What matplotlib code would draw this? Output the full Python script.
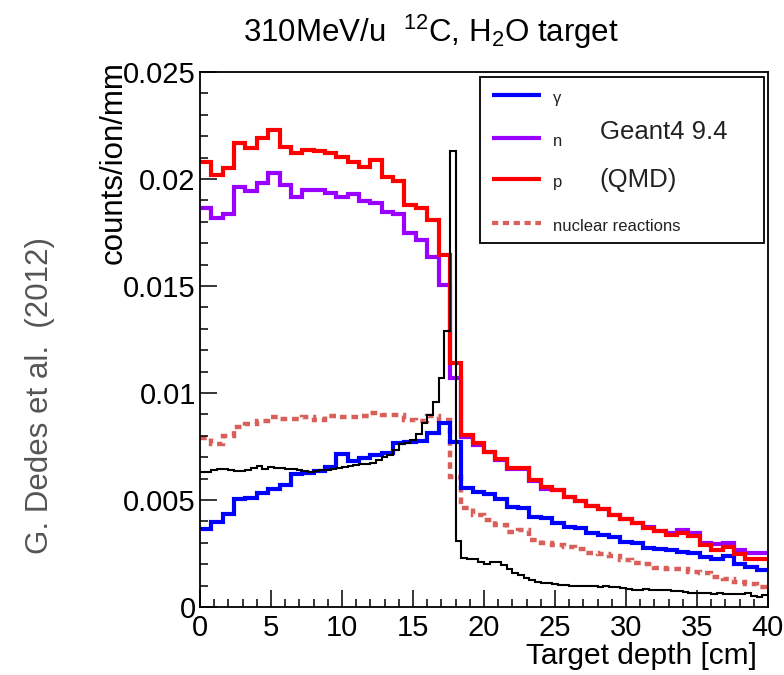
import numpy as np
import matplotlib
matplotlib.use("Agg")
import matplotlib.pyplot as plt
from matplotlib.patches import Rectangle

plt.rcParams['font.family'] = ['Liberation Sans', 'DejaVu Sans']
plt.rcParams['mathtext.fontset'] = 'custom'
plt.rcParams['mathtext.rm'] = 'Liberation Sans'
plt.rcParams['mathtext.default'] = 'regular'

# 50 bins of 0.8 cm for the particle spectra, 100 bins of 0.4 cm for the black curve
depth_edges = np.linspace(0, 40, 51)
fine_edges = np.linspace(0, 40, 101)

gamma = [0.00363, 0.00399, 0.00435, 0.00503, 0.00511, 0.00534, 0.00550, 0.00570, 0.00621, 0.00628,
         0.00636, 0.00656, 0.00715, 0.00684, 0.00695, 0.00710, 0.00721, 0.00765, 0.00773, 0.00778,
         0.00812, 0.00861, 0.00773, 0.00555, 0.00539, 0.00527, 0.00503, 0.00469, 0.00461, 0.00422,
         0.00414, 0.00391, 0.00375, 0.00368, 0.00344, 0.00336, 0.00326, 0.00305, 0.00300, 0.00274,
         0.00270, 0.00266, 0.00258, 0.00251, 0.00235, 0.00223, 0.00238, 0.00201, 0.00188, 0.00173]

neutron = [0.01863, 0.01816, 0.01835, 0.01961, 0.01944, 0.01983, 0.02030, 0.01972, 0.01914, 0.01949,
           0.01949, 0.01936, 0.01914, 0.01930, 0.01897, 0.01889, 0.01845, 0.01835, 0.01746, 0.01715,
           0.01637, 0.01505, 0.01069, 0.00795, 0.00755, 0.00722, 0.00688, 0.00643, 0.00646, 0.00590,
           0.00552, 0.00545, 0.00513, 0.00494, 0.00472, 0.00456, 0.00432, 0.00412, 0.00391, 0.00373,
           0.00357, 0.00347, 0.00360, 0.00344, 0.00298, 0.00294, 0.00300, 0.00266, 0.00251, 0.00251]

proton = [0.02080, 0.02020, 0.02050, 0.02167, 0.02143, 0.02190, 0.02230, 0.02150, 0.02120, 0.02136,
          0.02130, 0.02123, 0.02104, 0.02080, 0.02057, 0.02089, 0.02008, 0.01990, 0.01879, 0.01863,
          0.01808, 0.01645, 0.01139, 0.00804, 0.00765, 0.00726, 0.00690, 0.00648, 0.00648, 0.00593,
          0.00559, 0.00547, 0.00515, 0.00496, 0.00472, 0.00456, 0.00430, 0.00410, 0.00391, 0.00371,
          0.00355, 0.00336, 0.00347, 0.00332, 0.00290, 0.00266, 0.00279, 0.00248, 0.00223, 0.00223]

nuclear = [0.00788, 0.00762, 0.00799, 0.00843, 0.00855, 0.00870, 0.00889, 0.00877, 0.00877, 0.00889,
           0.00874, 0.00893, 0.00886, 0.00886, 0.00893, 0.00905, 0.00897, 0.00897, 0.00874, 0.00870,
           0.00893, 0.00874, 0.00609, 0.00461, 0.00430, 0.00407, 0.00383, 0.00352, 0.00360, 0.00313,
           0.00298, 0.00290, 0.00282, 0.00272, 0.00251, 0.00248, 0.00238, 0.00220, 0.00204, 0.00201,
           0.00181, 0.00176, 0.00176, 0.00165, 0.00157, 0.00142, 0.00129, 0.00118, 0.00107, 0.00092]

dose = [0.00630, 0.00632, 0.00640, 0.00645, 0.00645, 0.00638, 0.00636, 0.00636, 0.00638, 0.00648,
        0.00660, 0.00645, 0.00656, 0.00648, 0.00648, 0.00645, 0.00646, 0.00640, 0.00634, 0.00632,
        0.00634, 0.00638, 0.00638, 0.00645, 0.00648, 0.00652, 0.00658, 0.00664, 0.00668, 0.00667,
        0.00674, 0.00685, 0.00700, 0.00712, 0.00735, 0.00760, 0.00768, 0.00780, 0.00810, 0.00860,
        0.00897, 0.00960, 0.01070, 0.01290, 0.02130, 0.00310, 0.00228, 0.00225, 0.00223, 0.00212,
        0.00201, 0.00212, 0.00212, 0.00196, 0.00176, 0.00157, 0.00150, 0.00134, 0.00126, 0.00118,
        0.00114, 0.00110, 0.00108, 0.00105, 0.00103, 0.00100, 0.00098, 0.00098, 0.00097, 0.00096,
        0.00094, 0.00100, 0.00095, 0.00093, 0.00090, 0.00082, 0.00080, 0.00079, 0.00082, 0.00080,
        0.00079, 0.00080, 0.00078, 0.00077, 0.00074, 0.00070, 0.00067, 0.00066, 0.00064, 0.00064,
        0.00063, 0.00064, 0.00062, 0.00060, 0.00060, 0.00062, 0.00064, 0.00052, 0.00048, 0.00055]

xticks = [0, 5, 10, 15, 20, 25, 30, 35, 40]
yticks = [0, 0.005, 0.01, 0.015, 0.02, 0.025]
ytick_labels = ['0', '0.005', '0.01', '0.015', '0.02', '0.025']

c_gamma = '#0000ff'
c_n = '#9900ff'
c_p = '#ff0000'
c_nuc = '#d9605a'

fig = plt.figure(figsize=(7.84, 6.75), dpi=100)
ax = fig.add_axes([200/784, 1-607/675, 568/784, 535/675])

dots = (0, (1.5, 1.1))
ax.stairs(nuclear, depth_edges, baseline=None, color=c_nuc, lw=3.2, linestyle=dots,
          capstyle='butt')
ax.stairs(gamma, depth_edges, baseline=None, color=c_gamma, lw=3)
ax.stairs(neutron, depth_edges, baseline=None, color=c_n, lw=3)
ax.stairs(proton, depth_edges, baseline=None, color=c_p, lw=3)
ax.stairs(dose, fine_edges, baseline=None, color='black', lw=1.5)

ax.set_xlim(0, 40)
ax.set_ylim(0, 0.025)
ax.set_xticks(xticks)
ax.set_xticks(np.arange(0, 41, 1), minor=True)
ax.set_yticks(yticks)
ax.set_yticklabels(ytick_labels)
ax.set_yticks(np.arange(0, 0.0251, 0.001), minor=True)
ax.tick_params(which='both', direction='in', top=False, right=False, labelsize=21, width=1.1)
ax.tick_params(which='major', length=12)
ax.tick_params(which='minor', length=5.5)
ax.tick_params(axis='y', pad=3)
ax.tick_params(axis='x', pad=5)
for s in ax.spines.values():
    s.set_linewidth(1.3)

# legend box, ROOT style
ax.add_patch(Rectangle((0.493, 0.680), 0.500, 0.311, transform=ax.transAxes,
                       fill=False, edgecolor='black', lw=1.3, zorder=5))
leg_rows = [(0.957, c_gamma, '-', '\u03b3'), (0.877, c_n, '-', 'n'),
            (0.800, c_p, '-', 'p'), (0.718, c_nuc, dots, 'nuclear reactions')]
for yy, col, ls, lab in leg_rows:
    ax.plot([0.514, 0.600], [yy, yy], transform=ax.transAxes, color=col, lw=3,
            linestyle=ls, solid_capstyle='butt', dash_capstyle='butt', zorder=6)
    ax.text(0.621, yy - 0.006, lab, transform=ax.transAxes, fontsize=12,
            va='center', ha='left', color='#222222', zorder=6)
ax.text(0.704, 0.888, 'Geant4 9.4', transform=ax.transAxes, fontsize=18.5,
        va='center', ha='left', color='#222222')
ax.text(0.704, 0.798, '(QMD)', transform=ax.transAxes, fontsize=18.5,
        va='center', ha='left', color='#222222')

fig.text(431/784, 1-32/675, r'310MeV/u  $^{12}$C, H$_{2}$O target', fontsize=22.5,
         ha='center', va='center')
fig.text(114/784, 1-61/675, 'counts/ion/mm', fontsize=22.5, rotation=90,
         ha='center', va='top')
fig.text(757/784, 1-656/675, 'Target depth [cm]', fontsize=21.5,
         ha='right', va='center')
fig.text(40/784, 1-396/675, 'G. Dedes et al.  (2012)', fontsize=22.5, rotation=90,
         ha='center', va='center', color='#555555')

fig.savefig('out.png', dpi=100)
